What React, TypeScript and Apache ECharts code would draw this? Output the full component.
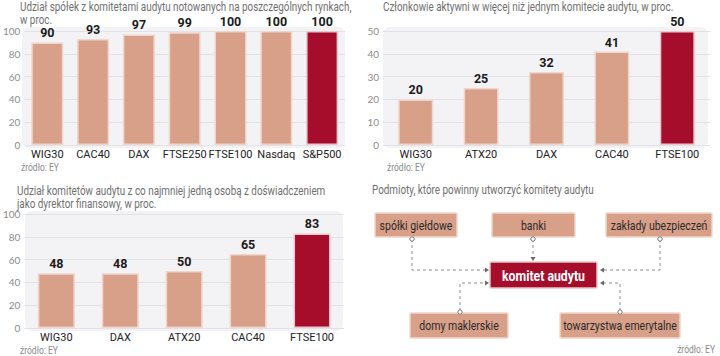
import React, { useEffect, useRef } from "react";
import * as echarts from "echarts";

const cats1 = ["WIG30", "CAC40", "DAX", "FTSE250", "FTSE100", "Nasdaq", "S&P500"];
const vals1 = [90, 93, 97, 99, 100, 100, 100];
const cats2 = ["WIG30", "ATX20", "DAX", "CAC40", "FTSE100"];
const vals2 = [20, 25, 32, 41, 50];
const cats3 = ["WIG30", "DAX", "ATX20", "CAC40", "FTSE100"];
const vals3 = [48, 48, 50, 65, 83];

const title1a = "Udział spółek z komitetami audytu notowanych na poszczególnych rynkach,";
const title1b = "w proc.";
const title2 = "Członkowie aktywni w więcej niż jednym komitecie audytu, w proc.";
const title3a = "Udział komitetów audytu z co najmniej jedną osobą z doświadczeniem";
const title3b = "jako dyrektor finansowy, w proc.";
const title4 = "Podmioty, które powinny utworzyć komitety audytu";
const source = "źródło: EY";

const boxesOuter = ["spółki giełdowe", "banki", "zakłady ubezpieczeń", "domy maklerskie", "towarzystwa emerytalne"];
const boxCenter = "komitet audytu";

const SALMON = "#d9a089";
const SALMON_BORDER = "#efd6cc";
const DARK = "#a50d2b";
const FONT = "Roboto, sans-serif";

function barData(vals: number[]) {
  return vals.map((v, i) => ({
    value: v,
    itemStyle: {
      color: i === vals.length - 1 ? DARK : SALMON,
      borderColor: i === vals.length - 1 ? "#e9c9cf" : SALMON_BORDER,
      borderWidth: 1.5,
    },
  }));
}

export default function App() {
  const ref = useRef<HTMLDivElement>(null);
  useEffect(() => {
    if (!ref.current) return;
    const chart = echarts.init(ref.current, undefined, { renderer: "svg" });

    const yAxisCommon = {
      type: "value" as const,
      axisLine: { show: false },
      axisTick: { show: false },
      axisLabel: { color: "#8c8c8c", fontSize: 10, fontFamily: "Lato, sans-serif", margin: 4 },
      splitLine: { lineStyle: { color: "#e2e2e6", width: 1 } },
    };
    const xAxisCommon = {
      type: "category" as const,
      axisLine: { show: false },
      axisTick: { show: false },
      axisLabel: { color: "#222", fontSize: 11, fontFamily: FONT, margin: 4, interval: 0 },
    };
    const labelCommon = {
      show: true,
      position: "top" as const,
      distance: 3,
      color: "#1a1a1a",
      fontSize: 12.5,
      fontWeight: "bold" as const,
      fontFamily: FONT,
    };

    const titleStyle = { fill: "#707070", fontSize: 12.5, fontFamily: FONT };
    const srcStyle = { fill: "#8a8a8a", fontSize: 10, fontFamily: FONT };
    const dash = { stroke: "#8c8c8c", lineWidth: 1, lineDash: [3, 3], fill: null };

    const txt = (x: number, y: number, text: string, style: any, sx = 0.79, extra: any = {}) => ({
      type: "text",
      x,
      y,
      scaleX: sx,
      style: { text, verticalAlign: "middle", ...style, ...extra },
      z: 10,
    });
    const bg = (x: number, y: number, w: number, h: number) => ({
      type: "rect",
      shape: { x, y, width: w, height: h, r: 7 },
      style: { fill: "#f3f3f5" },
      z: -10,
    });
    const box = (x: number, y: number, w: number, h: number, label: string, dark = false) => ({
      type: "group",
      children: [
        {
          type: "rect",
          shape: { x, y, width: w, height: h, r: 1 },
          style: { fill: dark ? DARK : SALMON, stroke: dark ? "#e6c3ca" : SALMON_BORDER, lineWidth: 1.5 },
        },
        {
          type: "text",
          x: x + w / 2,
          y: y + h / 2 + 0.5,
          scaleX: dark ? 0.82 : 0.84,
          style: {
            text: label,
            align: "center",
            verticalAlign: "middle",
            fill: dark ? "#fff" : "#2a2a2a",
            fontSize: dark ? 15 : 12.5,
            fontWeight: dark ? "bold" : "normal",
            fontFamily: FONT,
          },
        },
      ],
    });
    const circ = (cx: number, cy: number) => ({
      type: "circle",
      shape: { cx, cy, r: 2.2 },
      style: { fill: "#fff", stroke: "#777", lineWidth: 1 },
      z: 5,
    });
    const line = (pts: number[][]) => ({ type: "polyline", shape: { points: pts }, style: dash });
    const arrow = (x: number, y: number, dir: "r" | "l" | "d") => {
      let pts: number[][];
      if (dir === "r") pts = [[x, y], [x - 4, y - 2.5], [x - 4, y + 2.5]];
      else if (dir === "l") pts = [[x, y], [x + 4, y - 2.5], [x + 4, y + 2.5]];
      else pts = [[x, y], [x - 2.5, y - 4], [x + 2.5, y - 4]];
      return { type: "polygon", shape: { points: pts }, style: { fill: "#666" } };
    };

    chart.setOption({
      animation: false,
      backgroundColor: "#fff",
      grid: [
        { left: 18, right: 375, top: 31, bottom: 211 },
        { left: 383, right: 10, top: 31, bottom: 211 },
        { left: 17, right: 376, top: 214, bottom: 28 },
      ],
      xAxis: [
        { ...xAxisCommon, gridIndex: 0, data: cats1 },
        { ...xAxisCommon, gridIndex: 1, data: cats2 },
        { ...xAxisCommon, gridIndex: 2, data: cats3 },
      ],
      yAxis: [
        { ...yAxisCommon, gridIndex: 0, min: 0, max: 100, interval: 20 },
        { ...yAxisCommon, gridIndex: 1, min: 0, max: 50, interval: 10 },
        { ...yAxisCommon, gridIndex: 2, min: 0, max: 100, interval: 20 },
      ],
      series: [
        { type: "bar", xAxisIndex: 0, yAxisIndex: 0, data: barData(vals1), barWidth: 32, label: labelCommon },
        { type: "bar", xAxisIndex: 1, yAxisIndex: 1, data: barData(vals2), barWidth: 35, label: labelCommon },
        { type: "bar", xAxisIndex: 2, yAxisIndex: 2, data: barData(vals3), barWidth: 37, label: labelCommon },
      ],
      graphic: [
        bg(22, 27, 323, 121),
        bg(383, 27, 325, 121),
        bg(25, 211, 318, 120),
        txt(20, 7, title1a, titleStyle),
        txt(20, 20, title1b, titleStyle),
        txt(383, 7, title2, titleStyle),
        txt(17, 191, title3a, titleStyle),
        txt(17, 204, title3b, titleStyle),
        txt(372, 190, title4, titleStyle),
        txt(21, 167, source, srcStyle, 0.85),
        txt(387, 167, source, srcStyle, 0.85),
        txt(20, 350, source, srcStyle, 0.85),
        txt(715, 349, source, srcStyle, 0.85, { align: "right" }),
        // connectors
        line([[412, 239], [412, 270], [486, 270]]),
        arrow(489, 270, "r"),
        line([[533, 239], [533, 257]]),
        arrow(533, 261, "d"),
        line([[660, 239], [660, 270], [603, 270]]),
        arrow(600, 270, "l"),
        line([[460, 311], [460, 283], [486, 283]]),
        arrow(489, 283, "r"),
        line([[620, 311], [620, 283], [603, 283]]),
        arrow(600, 283, "l"),
        // boxes
        box(375, 213, 82, 24, boxesOuter[0]),
        box(492, 213, 83, 24, boxesOuter[1]),
        box(606, 213, 106, 24, boxesOuter[2]),
        box(410, 313, 98, 25, boxesOuter[3]),
        box(560, 313, 120, 25, boxesOuter[4]),
        box(490, 262, 107, 26, boxCenter, true),
        circ(412, 239),
        circ(533, 239),
        circ(660, 239),
        circ(460, 312),
        circ(620, 312),
      ],
    });
    return () => chart.dispose();
  }, []);
  return (
    <div
      ref={ref}
      style={{ position: "absolute", left: 0, top: 0, width: 720, height: 356, background: "#fff" }}
    />
  );
}
